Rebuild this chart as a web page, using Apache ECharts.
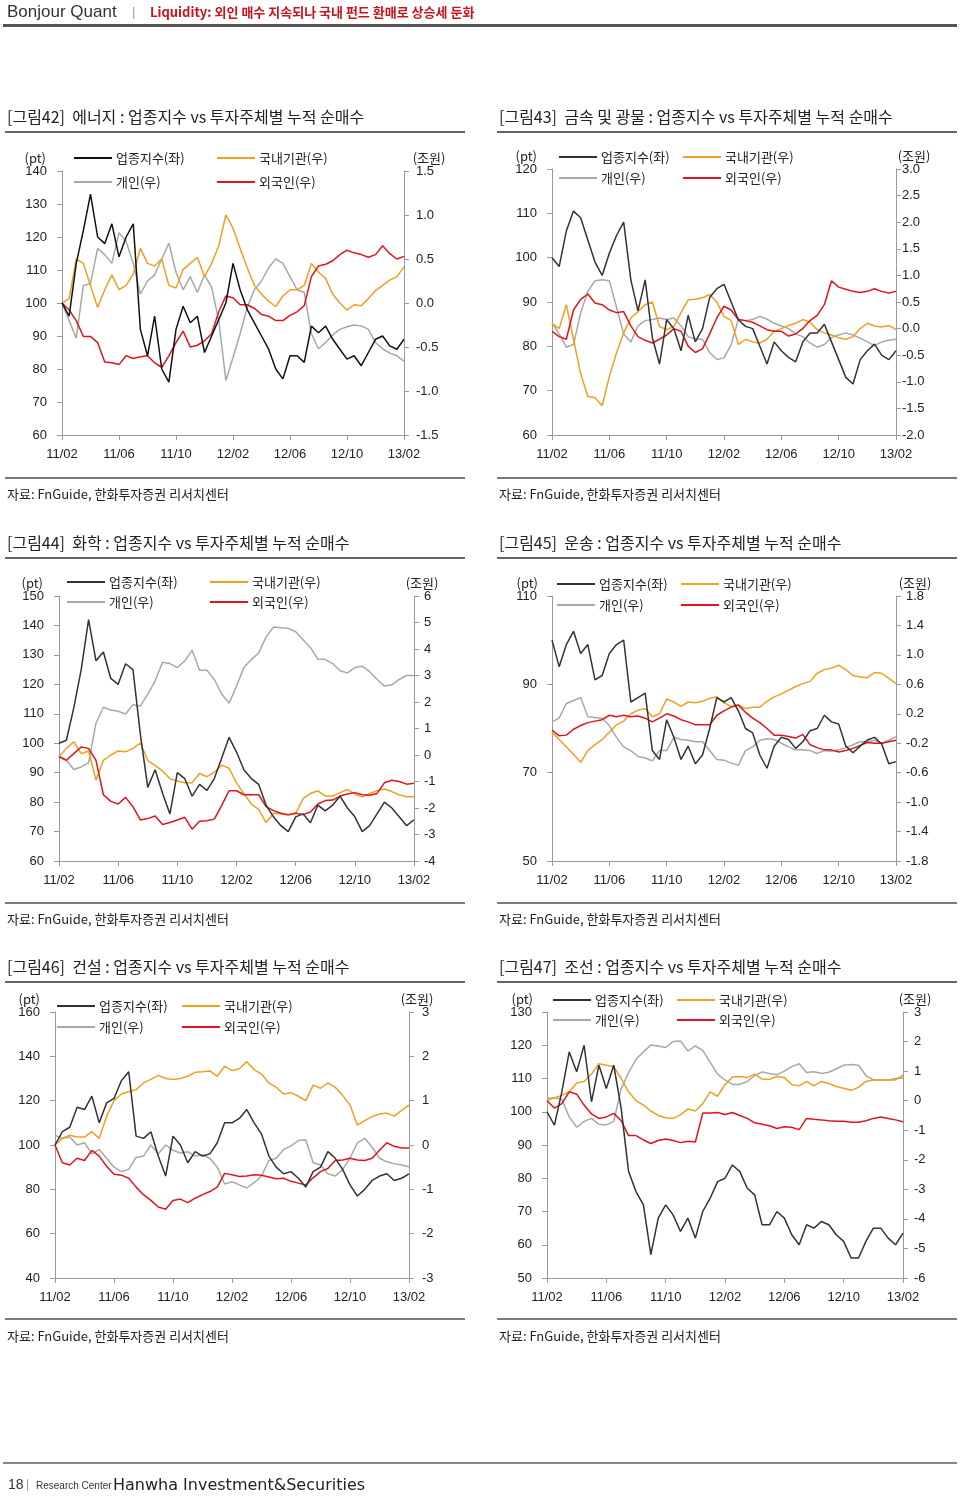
<!DOCTYPE html>
<html><head><meta charset="utf-8">
<script src="https://cdn.jsdelivr.net/npm/echarts@6/dist/echarts.min.js"></script>
<style>html,body{margin:0;padding:0;background:#fff}#c{width:960px;height:1497px}</style>
</head><body><div id="c"></div>
<script>
// ---------- data ----------
const xTickLabels = ['11/02','11/06','11/10','12/02','12/06','12/10','13/02'];
const seriesNames = ['업종지수(좌)','국내기관(우)','개인(우)','외국인(우)'];
const sourceText = '자료: FnGuide, 한화투자증권 리서치센터';

// [그림42] 에너지
const energyIndex = [100,96,112,122,133,120,118,124,114,120, 124,92,84,96,80,76,92,99,94,96, 85,90,95,100,112,104,98,94,90,86, 80,77,84,84,82,93,91,93,89,86, 83,84,81,85,89,90,87,86,89];
const energyInst = [0,0.05,0.5,0.45,0.2,-0.05,0.15,0.32,0.15,0.2, 0.33,0.62,0.45,0.42,0.5,0.2,0.17,0.38,0.45,0.52, 0.3,0.45,0.65,1.0,0.85,0.62,0.4,0.2,0.1,0.02, -0.04,0.08,0.15,0.15,0.2,0.45,0.35,0.28,0.1,0.0, -0.08,-0.02,-0.03,0.05,0.14,0.2,0.26,0.3,0.41];
const energyIndiv = [0,-0.2,-0.4,0.2,0.22,0.62,0.55,0.45,0.8,0.7, 0.45,0.1,0.25,0.32,0.5,0.68,0.35,0.15,0.3,0.12, 0.32,0.18,-0.2,-0.88,-0.62,-0.35,-0.05,0.15,0.25,0.4, 0.5,0.45,0.3,0.15,0.12,-0.35,-0.52,-0.45,-0.36,-0.3, -0.27,-0.25,-0.26,-0.3,-0.45,-0.52,-0.57,-0.6,-0.66];
const energyForeign = [0,-0.08,-0.2,-0.38,-0.38,-0.45,-0.67,-0.68,-0.7,-0.6, -0.63,-0.61,-0.6,-0.68,-0.73,-0.6,-0.45,-0.32,-0.5,-0.48, -0.43,-0.35,-0.1,0.08,0.06,-0.02,-0.02,-0.06,-0.13,-0.15, -0.2,-0.2,-0.14,-0.1,-0.03,0.3,0.42,0.44,0.48,0.55, 0.6,0.57,0.55,0.52,0.55,0.65,0.56,0.5,0.53];

// [그림43] 금속 및 광물
const metalIndex = [100,98,106,110.5,109,104,99,96,101,105, 108,95,88,95,82,76,86,84,79,87, 81,84,91,93,94,90,86,84.5,84,80, 76,81,79,77.5,76.5,81,83,83,85,81, 77,73,71.5,77,79,80.5,78,77,79];
const metalInst = [0.1,0.0,0.45,-0.2,-0.85,-1.27,-1.3,-1.45,-0.9,-0.46, -0.08,0.2,0.32,0.45,0.5,0.04,-0.02,0.04,0.3,0.54, 0.55,0.58,0.64,0.5,0.23,0.15,-0.3,-0.2,-0.25,-0.27, -0.2,-0.05,0.0,0.06,0.1,0.17,0.12,-0.02,-0.08,-0.12, -0.17,-0.2,-0.15,0.0,0.1,0.05,0.03,0.06,-0.02];
const metalIndiv = [0.1,-0.1,-0.35,-0.3,0.3,0.7,0.9,0.92,0.9,0.4, -0.1,-0.25,0.05,0.15,0.17,0.2,0.17,0.2,0.05,-0.15, -0.2,-0.2,-0.45,-0.58,-0.55,-0.3,0.17,0.15,0.17,0.23, 0.18,0.1,0.05,0.0,-0.1,-0.15,-0.27,-0.35,-0.3,-0.17, -0.12,-0.08,-0.12,-0.18,-0.25,-0.32,-0.25,-0.22,-0.2];
const metalForeign = [-0.05,-0.15,-0.2,0.35,0.55,0.65,0.48,0.45,0.35,0.3, 0.32,0.05,-0.15,-0.22,-0.27,-0.2,-0.12,0.0,-0.05,-0.33, -0.45,-0.38,-0.1,0.2,0.42,0.35,0.17,0.15,0.12,0.05, -0.02,-0.05,-0.05,-0.14,-0.1,0.0,0.15,0.25,0.45,0.9, 0.78,0.74,0.7,0.68,0.7,0.75,0.7,0.67,0.7];

// [그림44] 화학
const chemIndex = [100,101,112,125,142,128,131,122,120,127, 125,103,85,91,83,76,90,88,82,86, 84,88,95,102,97,91,88,86,79,75, 72,70,75,76,73,79,77,79,82,78, 75,70,72,76,80,78,75,72,74];
const chemInst = [-0.07,0.25,0.5,0.05,0.15,-0.95,-0.2,0.0,0.15,0.12, 0.25,0.45,-0.2,-0.4,-0.6,-0.9,-0.98,-1.05,-1.05,-0.7, -0.82,-0.65,-0.38,-0.5,-1.05,-1.45,-1.85,-2.05,-2.55,-2.2, -2.22,-2.27,-2.2,-1.65,-1.45,-1.35,-1.55,-1.55,-1.42,-1.3, -1.48,-1.58,-1.45,-1.35,-1.28,-1.38,-1.5,-1.58,-1.58];
const chemIndiv = [0,-0.2,-0.55,-0.45,-0.3,1.2,1.8,1.7,1.65,1.55, 1.9,1.85,2.3,2.8,3.5,3.45,3.3,3.55,3.95,3.2, 3.2,2.85,2.3,1.95,2.6,3.3,3.6,3.85,4.45,4.83, 4.8,4.78,4.65,4.35,4.05,3.62,3.6,3.45,3.18,3.1, 3.3,3.35,3.15,2.85,2.6,2.65,2.85,3.0,3.0];
const chemForeign = [-0.07,-0.2,0.05,0.3,0.25,-0.2,-1.5,-1.75,-1.85,-1.6, -1.95,-2.45,-2.4,-2.3,-2.62,-2.55,-2.45,-2.35,-2.8,-2.5, -2.48,-2.42,-1.9,-1.35,-1.35,-1.5,-1.5,-1.5,-1.95,-2.1, -2.2,-2.25,-2.2,-2.25,-2.15,-1.85,-1.72,-1.7,-1.55,-1.47, -1.42,-1.5,-1.52,-1.45,-1.05,-0.95,-1.0,-1.1,-1.07];

// [그림45] 운송
const transIndex = [100,94,99,102,97,99,91,92,97,99, 100,86,87,88,75,73,82,78,73,76, 72,74,80,87,86,87,84,80,79,74, 71,76,78,77.5,75.5,77,79.5,80,83,81.5, 81,76,74.5,76,77.4,78,76.5,72,72.5];
const transInst = [-0.05,-0.15,-0.25,-0.35,-0.46,-0.3,-0.22,-0.15,-0.05,0.05, 0.1,0.2,0.25,0.27,0.16,0.2,0.4,0.36,0.3,0.36, 0.35,0.37,0.41,0.43,0.35,0.3,0.32,0.27,0.29,0.29, 0.37,0.43,0.47,0.52,0.57,0.61,0.64,0.75,0.8,0.82, 0.86,0.8,0.72,0.7,0.69,0.76,0.75,0.68,0.61];
const transIndiv = [0.09,0.14,0.34,0.38,0.42,0.16,0.15,0.14,0.04,-0.12, -0.25,-0.3,-0.38,-0.4,-0.44,-0.3,-0.3,-0.12,-0.15,-0.16, -0.18,-0.18,-0.3,-0.42,-0.43,-0.47,-0.5,-0.3,-0.25,-0.16, -0.14,-0.15,-0.2,-0.25,-0.29,-0.29,-0.3,-0.34,-0.3,-0.31, -0.29,-0.26,-0.22,-0.18,-0.18,-0.16,-0.2,-0.16,-0.11];
const transForeign = [-0.02,-0.1,-0.09,-0.01,0.04,0.08,0.1,0.12,0.18,0.16, 0.18,0.16,0.17,0.14,0.09,0.14,0.2,0.17,0.12,0.09, 0.05,0.05,0.05,0.18,0.24,0.29,0.32,0.22,0.14,0.08, 0.0,-0.09,-0.09,-0.11,-0.13,-0.08,-0.22,-0.26,-0.29,-0.29, -0.32,-0.3,-0.27,-0.23,-0.19,-0.2,-0.2,-0.18,-0.16];

// [그림46] 건설
const constIndex = [100,106,108,117,116,122,110,119,121,129, 133,104,103,106,95,86,104,100,92,97, 95,96,101,110,110,112,116,110,105,95, 90,87,88,85,81,88,90,97,94,89, 82,77,80,84,86,87,84,85,87];
const constInst = [0,0.15,0.22,0.18,0.18,0.3,0.15,0.65,1.0,1.15, 1.2,1.25,1.4,1.48,1.57,1.5,1.48,1.5,1.55,1.64, 1.65,1.67,1.55,1.78,1.68,1.72,1.88,1.7,1.6,1.4, 1.3,1.15,1.18,1.1,1.0,1.35,1.28,1.4,1.3,1.12, 0.9,0.45,0.55,0.64,0.7,0.72,0.65,0.78,0.9];
const constIndiv = [0.22,0.15,0.18,0.0,0.05,-0.2,-0.1,-0.3,-0.5,-0.6, -0.55,-0.28,-0.25,0.0,-0.2,0.0,-0.12,-0.18,-0.15,-0.25, -0.22,-0.3,-0.5,-0.88,-0.83,-0.9,-0.97,-0.85,-0.7,-0.35, -0.3,-0.1,-0.02,0.1,0.12,-0.4,-0.45,-0.65,-0.7,-0.55, -0.3,0.05,0.15,-0.05,-0.3,-0.38,-0.42,-0.45,-0.49];
const constForeign = [0,-0.4,-0.45,-0.3,-0.35,-0.12,-0.25,-0.48,-0.66,-0.68, -0.75,-0.95,-1.12,-1.25,-1.4,-1.45,-1.25,-1.22,-1.3,-1.2, -1.12,-1.05,-0.95,-0.64,-0.67,-0.71,-0.7,-0.67,-0.68,-0.72, -0.76,-0.75,-0.82,-0.86,-0.9,-0.74,-0.6,-0.53,-0.35,-0.34, -0.3,-0.34,-0.35,-0.3,-0.12,0.05,-0.03,-0.07,-0.07];

// [그림47] 조선
const shipIndex = [100,96,106,118,112,120,103,114,107,114, 101,82,76,72,57,68,72,69,64,68, 62,70,74,79,80,84,82,77,75,66, 66,70,68,63,60,66,65,67,66,63, 61,56,56,61,65,65,62,60,63.5];
const shipInst = [0,0.1,0.18,0.3,0.6,0.65,0.9,1.25,1.2,1.15, 0.75,0.3,0.0,-0.15,-0.35,-0.5,-0.58,-0.6,-0.48,-0.28, -0.35,-0.1,0.3,0.15,0.55,0.8,0.82,0.78,0.9,0.73, 0.72,0.82,0.78,0.55,0.5,0.65,0.5,0.65,0.58,0.48, 0.42,0.35,0.45,0.65,0.7,0.7,0.7,0.7,0.86];
const shipIndiv = [0.08,0.1,0.05,-0.55,-0.9,-0.7,-0.6,-0.8,-0.82,-0.7, 0.4,0.95,1.4,1.65,1.88,1.85,1.8,2.0,2.02,1.68, 1.85,1.7,1.3,0.9,0.7,0.55,0.55,0.65,0.85,0.97, 0.92,0.88,1.0,1.15,1.25,0.95,0.98,0.92,0.96,1.08, 1.2,1.22,1.2,0.85,0.7,0.7,0.7,0.75,0.77];
const shipForeign = [0,-0.25,-0.1,0.3,0.22,-0.15,-0.45,-0.6,-0.55,-0.43, -0.68,-1.18,-1.18,-1.33,-1.45,-1.35,-1.3,-1.35,-1.42,-1.37, -1.4,-0.42,-0.42,-0.4,-0.47,-0.4,-0.5,-0.6,-0.75,-0.8, -0.85,-0.94,-0.88,-0.9,-0.98,-0.6,-0.63,-0.65,-0.68,-0.7, -0.7,-0.73,-0.73,-0.68,-0.6,-0.55,-0.6,-0.65,-0.71];

// ---------- categories (half-month steps from 2011/02) ----------
const categories = [];
for (let i = 0; i < 49; i++) {
  if (i % 8 === 0) { categories.push(xTickLabels[i / 8]); continue; }
  const t = 2011 * 12 + 1 + Math.floor(i / 2);
  const y = Math.floor(t / 12), m = t % 12 + 1;
  categories.push(String(y).slice(2) + '/' + String(m).padStart(2, '0') + (i % 2 ? ' 중순' : ''));
}

const FONT = "'Liberation Sans', 'Noto Sans CJK KR', sans-serif";
const KFONT = "'Noto Sans CJK KR', sans-serif";
const C_INST = '#F0A020', C_INDIV = '#A8A8A8', C_FOR = '#E0141E';
const LABEL = '#222', AXIS = '#9a9a9a';

const panels = [
  {title:'[그림42]  에너지 : 업종지수 vs 투자주체별 누적 순매수', data:[energyIndex,energyInst,energyIndiv,energyForeign], idxColor:'#111',
   grid:{left:62,top:171,width:342,height:264}, yL:{min:60,max:140,interval:10}, yR:{min:-1.5,max:1.5,interval:0.5}, dec:1,
   lg:{x1:74,x2:217,y1:158,y2:182}, nameL:16, nameR:25, mR:12, col:0, row:0},
  {title:'[그림43]  금속 및 광물 : 업종지수 vs 투자주체별 누적 순매수', data:[metalIndex,metalInst,metalIndiv,metalForeign], idxColor:'#333',
   grid:{left:552,top:169,width:344,height:266}, yL:{min:60,max:120,interval:10}, yR:{min:-2,max:3,interval:0.5}, dec:1,
   lg:{x1:559,x2:683,y1:157,y2:178}, nameL:15, nameR:18, mR:6, col:1, row:0},
  {title:'[그림44]  화학 : 업종지수 vs 투자주체별 누적 순매수', data:[chemIndex,chemInst,chemIndiv,chemForeign], idxColor:'#333',
   grid:{left:59,top:596,width:355,height:265}, yL:{min:60,max:150,interval:10}, yR:{min:-4,max:6,interval:1}, dec:0,
   lg:{x1:67,x2:210,y1:582,y2:602}, nameL:16, nameR:8, mR:10, col:0, row:1},
  {title:'[그림45]  운송 : 업종지수 vs 투자주체별 누적 순매수', data:[transIndex,transInst,transIndiv,transForeign], idxColor:'#333',
   grid:{left:552,top:596,width:344,height:265}, yL:{min:50,max:110,custom:[50,70,90,110]}, yR:{min:-1.8,max:1.8,custom:[-1.8,-1.4,-1.0,-0.6,-0.2,0.2,0.6,1.0,1.4,1.8]}, dec:1,
   lg:{x1:557,x2:681,y1:584,y2:605}, nameL:14, nameR:19, mR:10, col:1, row:1},
  {title:'[그림46]  건설 : 업종지수 vs 투자주체별 누적 순매수', data:[constIndex,constInst,constIndiv,constForeign], idxColor:'#333',
   grid:{left:55,top:1012,width:354,height:266}, yL:{min:40,max:160,interval:20}, yR:{min:-3,max:3,interval:1}, dec:0,
   lg:{x1:57,x2:182,y1:1006,y2:1027}, nameL:15, nameR:8, mR:13, col:0, row:2},
  {title:'[그림47]  조선 : 업종지수 vs 투자주체별 누적 순매수', data:[shipIndex,shipInst,shipIndiv,shipForeign], idxColor:'#333',
   grid:{left:547,top:1012,width:356,height:266}, yL:{min:50,max:130,interval:10}, yR:{min:-6,max:3,interval:1}, dec:0,
   lg:{x1:553,x2:677,y1:1000,y2:1020}, nameL:14, nameR:12, mR:11, col:1, row:2}
];
const rows = [
  {titleY:117, srcLineY:477, srcY:494},
  {titleY:543, srcLineY:902, srcY:919},
  {titleY:967, srcLineY:1318, srcY:1336}
];
const cols = [{tx:7, lx:5, lw:460}, {tx:499, lx:497, lw:460}];

const grids = [], xAxes = [], yAxes = [], series = [], legends = [], graphics = [];

function txt(x, y, text, size, color, family, weight) {
  graphics.push({type:'text', x, y, silent:true, z:10,
    style:{text, fontSize:size, fontFamily:family || KFONT, fontWeight:weight || 'normal', fill:color, align:'left', verticalAlign:'middle'}});
}
function bar(x, y, w, h, color) {
  graphics.push({type:'rect', silent:true, shape:{x, y, width:w, height:h}, style:{fill:color}});
}

function yAxisCfg(k, spec, pos, name, fmt, margin, namePad) {
  const a = {
    type:'value', gridIndex:k, position:pos, min:spec.min, max:spec.max,
    axisLine:{show:true, onZero:false, lineStyle:{color:AXIS, width:1}},
    axisTick:{show:true, length:5, lineStyle:{color:AXIS}},
    splitLine:{show:false},
    axisLabel:{margin, fontSize:13, color:LABEL, fontFamily:FONT, formatter:fmt},
    name, nameLocation:'end', nameGap:13,
    nameTextStyle:{fontSize:13, color:LABEL, fontFamily:KFONT, verticalAlign:'middle',
      align: pos === 'left' ? 'right' : 'center',
      padding: pos === 'left' ? [0, namePad, 0, 0] : [0, 0, 0, 2 * namePad]}
  };
  if (spec.custom) {
    a.axisLabel.customValues = spec.custom;
    a.axisTick.customValues = spec.custom;
  } else {
    a.interval = spec.interval;
  }
  return a;
}

panels.forEach((p, k) => {
  grids.push(Object.assign({containLabel:false}, p.grid));
  xAxes.push({
    type:'category', gridIndex:k, data:categories, boundaryGap:false, position:'bottom',
    axisLine:{onZero:false, lineStyle:{color:AXIS}},
    axisTick:{show:true, length:5, interval:7, lineStyle:{color:AXIS}},
    axisLabel:{interval:7, margin:13, fontSize:13, color:LABEL, fontFamily:FONT}
  });
  const fmtR = v => p.dec ? v.toFixed(p.dec) : String(Math.round(v));
  yAxes.push(yAxisCfg(k, p.yL, 'left', '(pt)', v => String(Math.round(v)), 15, p.nameL));
  yAxes.push(yAxisCfg(k, p.yR, 'right', '(조원)', fmtR, p.mR, p.nameR));

  const colors = [p.idxColor, C_INST, C_INDIV, C_FOR];
  const order = [2, 1, 3, 0];
  order.forEach(j => {
    series.push({
      type:'line', name:seriesNames[j], xAxisIndex:k, yAxisIndex: j === 0 ? 2 * k : 2 * k + 1,
      data:p.data[j], symbol:'none', showSymbol:false, animation:false,
      lineStyle:{width:1.5, color:colors[j]}, itemStyle:{color:colors[j]}, z: j === 0 ? 5 : 3
    });
  });

  const lgPos = [[p.lg.x1, p.lg.y1], [p.lg.x2, p.lg.y1], [p.lg.x1, p.lg.y2], [p.lg.x2, p.lg.y2]];
  [0, 1, 2, 3].forEach(j => {
    legends.push({
      left:lgPos[j][0], top:lgPos[j][1] - 8, padding:0, itemWidth:38, itemHeight:2, itemGap:0,
      selectedMode:false, icon:'rect',
      textStyle:{fontSize:13, color:LABEL, fontFamily:KFONT, lineHeight:16, padding:[0,0,0,-1]},
      data:[{name:seriesNames[j], icon:'rect', itemStyle:{color:colors[j]}, lineStyle:{color:colors[j]}}]
    });
  });

  const r = rows[p.row], c = cols[p.col];
  txt(c.tx, r.titleY, p.title, 16, '#222');
  bar(c.lx, r.titleY + 14, c.lw, 2, '#666');
  bar(c.lx, r.srcLineY, c.lw, 2, '#7a7a7a');
  txt(c.tx, r.srcY, sourceText, 13, '#222');
});

// header / footer
txt(7, 12, 'Bonjour Quant', 17, '#333', "'Liberation Sans', sans-serif");
txt(132, 12, '|', 13, '#999', "'Liberation Sans', sans-serif");
txt(150, 12, 'Liquidity: 외인 매수 지속되나 국내 펀드 환매로 상승세 둔화', 13, '#C8141C', KFONT, 'bold');
bar(3, 24, 954, 3, '#555');
bar(3, 1462, 954, 2, '#888');
txt(8, 1485, '18', 14, '#333', "'Liberation Sans', sans-serif");
txt(26, 1485, '|', 12, '#999', "'Liberation Sans', sans-serif");
txt(36, 1486, 'Research Center', 10, '#333', "'Liberation Sans', sans-serif");
txt(113, 1486, 'Hanwha Investment&Securities', 16, '#222', "'DejaVu Sans', sans-serif");

const chart = echarts.init(document.getElementById('c'), null, {renderer:'canvas'});
chart.setOption({
  backgroundColor:'#fff', animation:false,
  grid:grids, xAxis:xAxes, yAxis:yAxes, series, legend:legends, graphic:graphics,
  tooltip:{show:false}
});
</script>
</body></html>
